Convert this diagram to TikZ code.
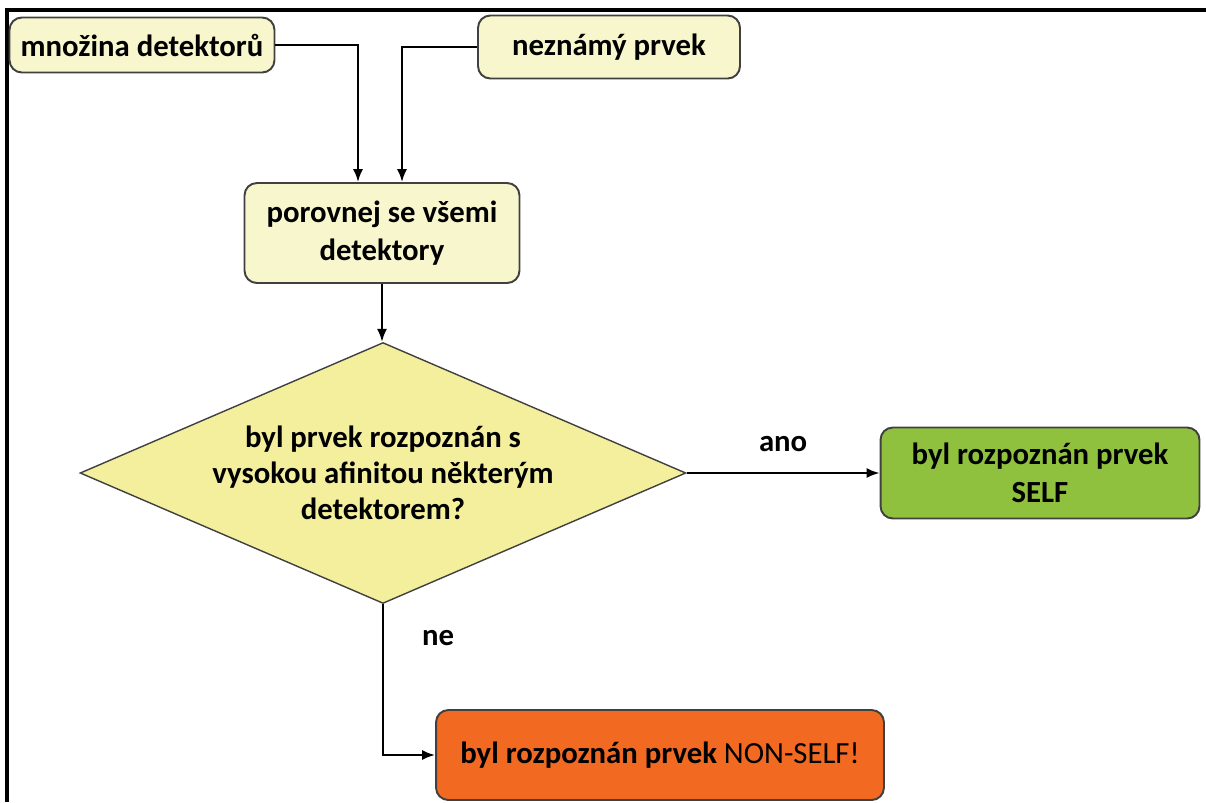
\documentclass[tikz,border=0pt]{standalone}
\usepackage{fontspec}
\setmainfont{Carlito}
\usetikzlibrary{calc,shapes.geometric,arrows.meta}
\definecolor{boxyellow}{HTML}{F8F6CC}
\definecolor{diayellow}{HTML}{F3EF9C}
\definecolor{selfgreen}{HTML}{8FC13F}
\definecolor{nonorange}{HTML}{F26A22}

\begin{document}
\begin{tikzpicture}[x=0.02cm, y=-0.02cm, >={Latex[length=0.26cm,width=0.2cm]},
    box/.style={rectangle, rounded corners=7pt, draw=black!75, line width=1.1pt,
            fill=boxyellow, align=center, inner sep=2pt,
            font=\fontsize{17.5}{21.5}\selectfont\bfseries},
    label/.style={font=\fontsize{17.5}{21.5}\selectfont\bfseries},
    conn/.style={->, line width=1.1pt}]

          \useasboundingbox (0,0) rectangle (1206,802);
          \draw[line width=1.9pt] (7,802) -- (7,10) -- (1206,10);

          \node[box, minimum width=5.3cm, minimum height=1.1cm] (mnozina) at (142,45) {množina detektorů};
          \node[box, minimum width=5.24cm, minimum height=1.26cm] (neznamy) at (609,47) {neznámý prvek};
          \node[box, minimum width=5.5cm, minimum height=2cm] (porovnej) at (382,233) {porovnej se všemi\\detektory};
          \node[diamond, draw=black!75, line width=0.8pt, fill=diayellow, aspect=2.32, inner sep=0pt,
                minimum width=12.12cm, minimum height=5.22cm, align=center,
                font=\fontsize{17.5}{20.5}\selectfont\bfseries] (dotaz) at (383,473)
                {byl prvek rozpoznán s\\vysokou afinitou některým\\detektorem?};
          \node[box, fill=selfgreen, minimum width=6.38cm, minimum height=1.82cm] (self) at (1040,473) {byl rozpoznán prvek\\SELF};
          \node[box, fill=nonorange, minimum width=8.96cm, minimum height=1.8cm] (nonself) at (660,755) {byl rozpoznán prvek {\mdseries NON-SELF!}};

          \draw[conn] (mnozina.east) -| ($(porovnej.north)+(-24,0)$);
          \draw[conn] (neznamy.west) -| ($(porovnej.north)+(20,0)$);
          \draw[conn] (porovnej.south) -- (porovnej.south |- dotaz.north);
          \draw[conn] (dotaz.east) -- node[label, above=8pt] (ano) {ano} (self.west);
          \draw[conn] (dotaz.south) |- (nonself.west);
          \node[label] (ne) at (438,638) {ne};
        \end{tikzpicture}
\end{document}
